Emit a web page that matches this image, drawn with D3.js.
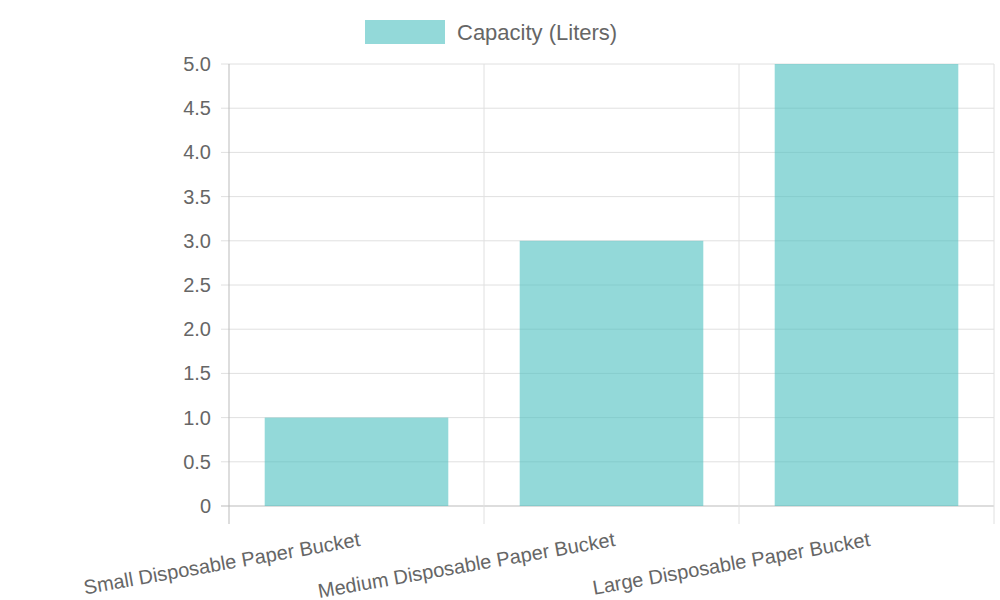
<!DOCTYPE html>
<html><head><meta charset="utf-8">
<script src="https://cdn.jsdelivr.net/npm/d3@7"></script>
<style>body{margin:0;background:#fff;font-family:"Liberation Sans",Arial,sans-serif}</style>
</head><body><svg id="c" width="1000" height="600"></svg>
<script>
const categories = ["Small Disposable Paper Bucket", "Medium Disposable Paper Bucket", "Large Disposable Paper Bucket"];
const capacity = [1, 3, 5];
const yTicks = [0, 0.5, 1, 1.5, 2, 2.5, 3, 3.5, 4, 4.5, 5];
const seriesName = "Capacity (Liters)";

const svg = d3.select("#c");
const plotLeft = 229, plotRight = 994, plotTop = 64, plotBottom = 506;
const fill = "rgba(75,192,192,0.6)";

const x = d3.scaleBand().domain(categories).range([plotLeft, plotRight]).paddingInner(0).paddingOuter(0);
const y = d3.scaleLinear().domain([0, 5]).range([plotBottom, plotTop]);

// horizontal grid
svg.append("g").selectAll("line").data(yTicks).join("line")
  .attr("x1", plotLeft - 8).attr("x2", plotRight).attr("y1", d => y(d)).attr("y2", d => y(d))
  .attr("stroke", d => d === 0 ? "#bbb" : "#e0e0e0");
// vertical grid at band edges
const edges = categories.map(c => x(c)).concat([plotRight]);
svg.append("g").selectAll("line").data(edges).join("line")
  .attr("x1", d => d).attr("x2", d => d).attr("y1", plotTop).attr("y2", plotBottom + 18)
  .attr("stroke", (d, i) => i === 0 ? "#bbb" : "#e0e0e0");

svg.append("g").selectAll("text").data(yTicks).join("text")
  .attr("x", plotLeft - 18).attr("y", d => y(d)).attr("dy", "0.35em")
  .attr("text-anchor", "end").attr("font-size", 20).attr("fill", "#666")
  .text(d => d === 0 ? "0" : d.toFixed(1));

svg.append("g").selectAll("rect").data(categories).join("rect")
  .attr("x", d => x(d) + x.bandwidth() * 0.14)
  .attr("width", x.bandwidth() * 0.72)
  .attr("y", (d, i) => y(capacity[i]))
  .attr("height", (d, i) => plotBottom - y(capacity[i]))
  .attr("fill", fill);

svg.append("g").selectAll("text").data(categories).join("text")
  .attr("transform", d => `translate(${x(d) + x.bandwidth() / 2 + 2},${plotBottom + 26}) rotate(-10)`)
  .attr("text-anchor", "end").attr("dy", "0.7em").attr("font-size", 20).attr("fill", "#666")
  .text(d => d);

// legend
svg.append("rect").attr("x", 365).attr("y", 20).attr("width", 80).attr("height", 24).attr("fill", fill);
svg.append("text").attr("x", 457).attr("y", 32).attr("dy", "0.35em")
  .attr("font-size", 22).attr("fill", "#666").text(seriesName);
</script></body></html>
